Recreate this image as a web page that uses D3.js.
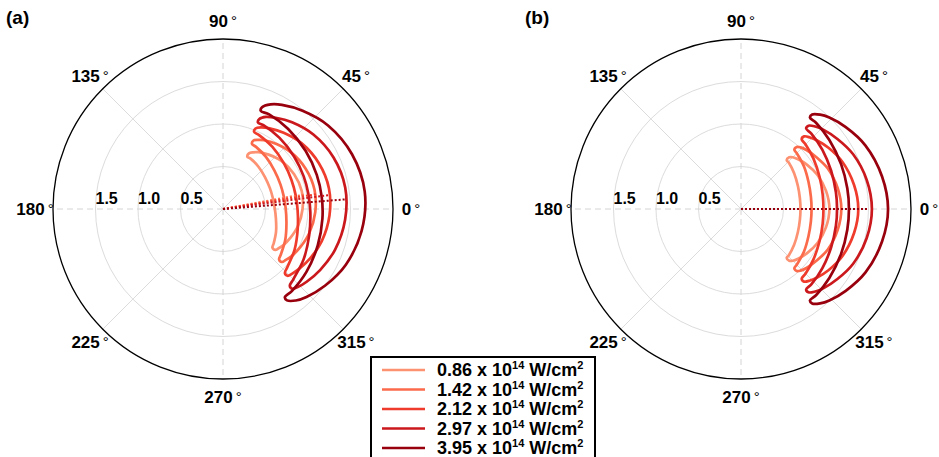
<!DOCTYPE html>
<html>
<head>
<meta charset="utf-8">
<script src="https://cdn.jsdelivr.net/npm/d3@7"></script>
<style>
    body { margin: 0; background: #fff; }
    text { font-family: "Liberation Sans", Arial, Helvetica, sans-serif; font-weight: bold; fill: #000; }
</style>
</head>
<body>
<div id="chart"></div>
<script>
"use strict";

// laser intensities, in units of 10^14 W/cm^2
var intensities = ["0.86", "1.42", "2.12", "2.97", "3.95"];
var colors = ["#fc9272", "#fb6a4a", "#ef3b2c", "#cb181d", "#99000d"];

var angleTicks = [0, 45, 90, 135, 180, 225, 270, 315];
var radialTicks = [0.5, 1.0, 1.5];
var radialTickLabels = ["0.5", "1.0", "1.5"];
var radialMax = 2.0;

// outlines: [angle in degrees, radius]
var loopsA = [
    [[-38,0.738],[-38,0.782],[-35,0.802],[-31,0.827],[-23,0.863],[-13,0.904],[0,0.936],[13,0.95],[26,0.931],[39.5,0.89],[50,0.835],[58,0.788],[62,0.755],[65,0.722],[65,0.678],[61,0.675],[50,0.649],[37,0.62],[24,0.604],[13,0.60],[3,0.606],[-10,0.632],[-23,0.678],[-34,0.72]],
    [[-42,0.888],[-42,0.932],[-39,0.952],[-35,0.977],[-26.5,1.013],[-15.5,1.054],[-2,1.086],[12,1.10],[26,1.082],[39.5,1.042],[50.5,0.99],[59,0.944],[63,0.913],[66,0.882],[66,0.838],[62,0.828],[50.5,0.794],[37,0.756],[23,0.735],[12,0.73],[1,0.737],[-13,0.766],[-26.5,0.818],[-38,0.865]],
    [[-46,1.048],[-46,1.092],[-43,1.114],[-38,1.14],[-29.5,1.178],[-18,1.222],[-3.5,1.255],[11,1.27],[25.5,1.25],[40,1.205],[51.5,1.146],[60,1.095],[65,1.059],[68,1.022],[68,0.978],[64,0.968],[51.5,0.934],[37,0.896],[23,0.875],[11,0.87],[-1,0.878],[-15,0.91],[-29.5,0.968],[-42,1.02]],
    [[-49,1.198],[-49,1.242],[-46,1.273],[-41,1.304],[-32,1.35],[-20,1.402],[-5,1.442],[10,1.46],[25,1.435],[39.5,1.378],[51.5,1.304],[60,1.239],[65,1.195],[68,1.142],[68,1.098],[64,1.095],[51.5,1.069],[36.5,1.04],[22,1.024],[10,1.02],[-2,1.028],[-17,1.06],[-32,1.118],[-45,1.17]],
    [[-55,1.268],[-55,1.312],[-51.5,1.376],[-46.5,1.427],[-37,1.501],[-24.5,1.586],[-9,1.651],[7,1.68],[23,1.649],[38.5,1.579],[51,1.487],[60.5,1.407],[65.5,1.352],[69,1.282],[69,1.238],[64,1.238],[51,1.214],[35,1.188],[20,1.174],[7,1.17],[-5.5,1.175],[-21,1.194],[-37,1.229],[-50,1.26]]
];

var loopsB = [
    [[-47,0.788],[-47,0.832],[-45,0.861],[-41,0.891],[-34,0.934],[-24,0.985],[-12,1.023],[0,1.04],[12,1.023],[24,0.985],[34,0.934],[41,0.891],[45,0.861],[47,0.832],[47,0.788],[44,0.783],[34,0.754],[22,0.722],[10,0.704],[0,0.70],[-10,0.704],[-22,0.722],[-34,0.754],[-44,0.783]],
    [[-48,0.938],[-48,0.982],[-46,1.008],[-42,1.037],[-34,1.079],[-25,1.127],[-12,1.164],[0,1.18],[12,1.164],[25,1.127],[34,1.079],[42,1.037],[46,1.008],[48,0.982],[48,0.938],[45,0.928],[34,0.894],[22,0.856],[10,0.835],[0,0.83],[-10,0.835],[-22,0.856],[-34,0.894],[-45,0.928]],
    [[-49,1.088],[-49,1.132],[-46,1.169],[-42,1.205],[-35,1.256],[-25,1.315],[-12,1.36],[0,1.38],[12,1.36],[25,1.315],[35,1.256],[42,1.205],[46,1.169],[49,1.132],[49,1.088],[45,1.075],[35,1.039],[22,0.998],[10,0.976],[0,0.97],[-10,0.976],[-22,0.998],[-35,1.039],[-45,1.075]],
    [[-51,1.218],[-51,1.262],[-48,1.306],[-44,1.345],[-36,1.402],[-26,1.468],[-13,1.518],[0,1.54],[13,1.518],[26,1.468],[36,1.402],[44,1.345],[48,1.306],[51,1.262],[51,1.218],[47,1.213],[36,1.184],[23,1.152],[10,1.134],[0,1.13],[-10,1.134],[-23,1.152],[-36,1.184],[-47,1.213]],
    [[-53,1.348],[-53,1.392],[-50,1.449],[-46,1.496],[-38,1.564],[-27,1.644],[-13,1.703],[0,1.73],[13,1.703],[27,1.644],[38,1.564],[46,1.496],[50,1.449],[53,1.392],[53,1.348],[49,1.345],[38,1.319],[24,1.29],[11,1.274],[0,1.27],[-11,1.274],[-24,1.29],[-38,1.319],[-49,1.345]]
];

// most probable emission direction (dotted lines)
var peakAngleA = [10.5, 10, 9, 7.5, 4.5];
var peakRadiusA = [0.84, 0.98, 1.12, 1.27, 1.44];
var peakAngleB = [0, 0, 0, 0, 0];
var peakRadiusB = [0.87, 1.00, 1.17, 1.33, 1.50];

var width = 939, height = 457;
var outerR = 170;

var svg = d3.select("#chart")
    .append("svg")
    .attr("width", width)
    .attr("height", height);

var r = d3.scaleLinear().domain([0, radialMax]).range([0, outerR]);

function toRad(deg) { return deg * Math.PI / 180; }

function drawPanel(cx, cy, tag, tagX, loops, peakAngles, peakRadii) {
    var g = svg.append("g").attr("transform", "translate(" + cx + "," + cy + ")");

    // grid rings
    g.selectAll("circle.ring")
        .data(radialTicks)
        .enter().append("circle")
        .attr("class", "ring")
        .attr("r", function (d) { return r(d); })
        .attr("fill", "none")
        .attr("stroke", "#dcdcdc")
        .attr("stroke-width", 1);

    // spokes
    g.selectAll("line.spoke")
        .data(angleTicks)
        .enter().append("line")
        .attr("class", "spoke")
        .attr("x1", 0).attr("y1", 0)
        .attr("x2", function (d) { return r(radialMax) * Math.cos(toRad(d)); })
        .attr("y2", function (d) { return -r(radialMax) * Math.sin(toRad(d)); })
        .attr("stroke", function (d) { return d % 90 === 0 ? "#d4d4d4" : "#dcdcdc"; })
        .attr("stroke-dasharray", function (d) { return d % 90 === 0 ? "6,4" : null; })
        .attr("stroke-width", 1);

    g.append("circle")
        .attr("r", r(radialMax))
        .attr("fill", "none")
        .attr("stroke", "#000")
        .attr("stroke-width", 1.3);

    // radial labels
    g.selectAll("text.rlabel")
        .data(radialTicks)
        .enter().append("text")
        .attr("class", "rlabel")
        .attr("x", function (d) { return -r(d); })
        .attr("y", -5)
        .attr("font-size", 16)
        .text(function (d, i) { return radialTickLabels[i]; });

    // angle labels
    var al = g.selectAll("text.alabel")
        .data(angleTicks)
        .enter().append("text")
        .attr("class", "alabel")
        .attr("x", function (d) { return (r(radialMax) + 18) * Math.cos(toRad(d)); })
        .attr("y", function (d) { return -(r(radialMax) + 18) * Math.sin(toRad(d)); })
        .attr("text-anchor", "middle")
        .attr("dominant-baseline", "central")
        .attr("font-size", 17);
    al.append("tspan").text(function (d) { return d; });
    al.append("tspan").attr("dx", 3).attr("font-weight", "normal").attr("font-size", 15).attr("dy", -1).text("°");

    var line = d3.lineRadial()
        .angle(function (d) { return toRad(90 - d[0]); })
        .radius(function (d) { return r(d[1]); })
        .curve(d3.curveCatmullRomClosed.alpha(0.5));

    g.selectAll("path.loop")
        .data(loops)
        .enter().append("path")
        .attr("class", "loop")
        .attr("d", function (d) { return line(d); })
        .attr("fill", "none")
        .attr("stroke", function (d, i) { return colors[i]; })
        .attr("stroke-width", 2.7)
        .attr("stroke-linejoin", "round");

    g.selectAll("line.peak")
        .data(peakRadii)
        .enter().append("line")
        .attr("class", "peak")
        .attr("x1", 0).attr("y1", 0)
        .attr("x2", function (d, i) { return r(d) * Math.cos(toRad(peakAngles[i])); })
        .attr("y2", function (d, i) { return -r(d) * Math.sin(toRad(peakAngles[i])); })
        .attr("stroke", function (d, i) { return colors[i]; })
        .attr("stroke-width", 2)
        .attr("stroke-dasharray", "2,2");

    svg.append("text")
        .attr("x", tagX)
        .attr("y", 24)
        .attr("font-size", 19)
        .text(tag);
}

drawPanel(223, 209, "(a)", 6, loopsA, peakAngleA, peakRadiusA);
drawPanel(741, 209, "(b)", 525, loopsB, peakAngleB, peakRadiusB);

// legend
var legend = svg.append("g").attr("transform", "translate(371,357)");
legend.append("rect")
    .attr("x", 0).attr("y", 0)
    .attr("width", 224).attr("height", 120)
    .attr("fill", "#fff")
    .attr("stroke", "#000")
    .attr("stroke-width", 2);

var rows = legend.selectAll("g.row")
    .data(intensities)
    .enter().append("g")
    .attr("class", "row")
    .attr("transform", function (d, i) { return "translate(0," + (13 + i * 19.5) + ")"; });

rows.append("line")
    .attr("x1", 11).attr("x2", 54)
    .attr("y1", 0).attr("y2", 0)
    .attr("stroke", function (d, i) { return colors[i]; })
    .attr("stroke-width", 2.7);

var lt = rows.append("text")
    .attr("x", 66)
    .attr("y", 6)
    .attr("font-size", 18)
    .attr("xml:space", "preserve");
lt.append("tspan").text(function (d) { return d + " x 10"; });
lt.append("tspan").attr("font-size", 11).attr("dy", -7).text("14");
lt.append("tspan").attr("dy", 7).text(" W/cm");
lt.append("tspan").attr("font-size", 11).attr("dy", -7).text("2");
</script>
</body>
</html>
